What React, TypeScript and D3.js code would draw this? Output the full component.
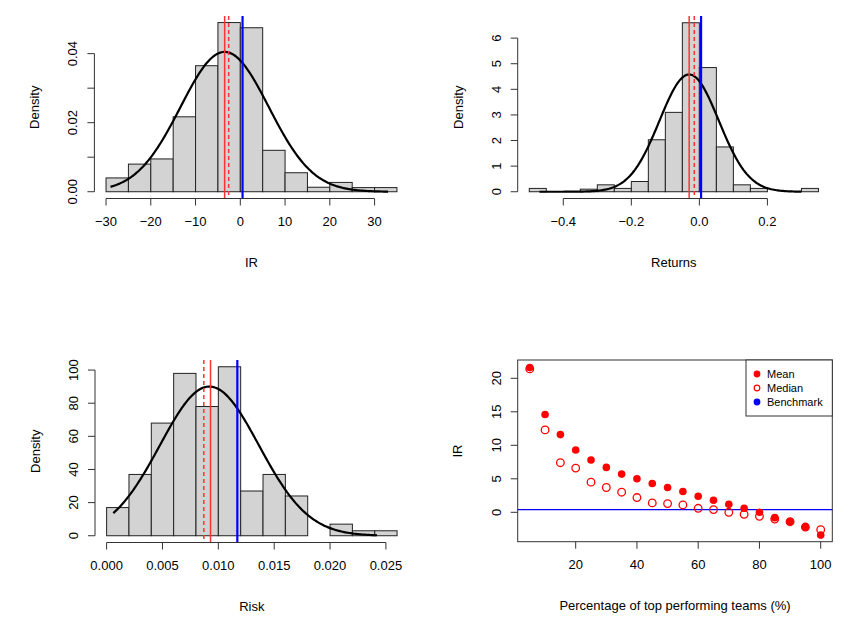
import React from "react";
import * as d3 from "d3";

const irBreaks = d3.range(-30, 36, 5);
const irDens = [0.004, 0.008, 0.0095, 0.0217, 0.0365, 0.049, 0.0475, 0.012, 0.0055, 0.0013, 0.0027, 0.0012, 0.0012];
const retBreaks = d3.range(-0.5, 0.351, 0.05);
const retDens = [0.13, 0, 0, 0.1, 0.27, 0.13, 0.4, 2.03, 3.1, 6.6, 4.85, 1.75, 0.27, 0.13, 0, 0, 0.13];
const riskBreaks = d3.range(0, 0.0261, 0.002);
const riskDens = [17, 37, 68, 98, 78, 102, 27, 37, 24, 0, 7, 3, 3];
const pct = d3.range(5, 101, 5);
const meanIR = [21.6, 14.6, 11.6, 9.3, 7.8, 6.7, 5.7, 5.0, 4.3, 3.7, 3.1, 2.4, 1.8, 1.2, 0.6, 0.0, -0.8, -1.4, -2.2, -3.4];
const medianIR = [21.4, 12.3, 7.4, 6.6, 4.5, 3.7, 3.0, 2.2, 1.4, 1.3, 1.1, 0.6, 0.4, 0.0, -0.3, -0.6, -1.0, -1.4, -2.2, -2.6];
const benchmarkIR = 0.4;

const F = "Liberation Sans, Arial, sans-serif";

type HP = {
  breaks: number[]; dens: number[]; mean: number; sd: number; c0: number; c1: number;
  red: number; dash: number; blue: number; xticks: number[]; yticks: number[]; ylabel: (v: number) => string;
  xlabel: (v: number) => string; title: string; px: [number, number]; py: [number, number]; xdom: [number, number]; ydom: [number, number];
};

function Hist(p: HP) {
  const x = d3.scaleLinear().domain(p.xdom).range(p.px);
  const y = d3.scaleLinear().domain(p.ydom).range(p.py);
  const pts = d3.range(0, 201).map(i => p.c0 + (p.c1 - p.c0) * i / 200);
  const line = d3.line<number>().x(v => x(v)).y(v => y(Math.exp(-0.5 * ((v - p.mean) / p.sd) ** 2) / (p.sd * Math.sqrt(2 * Math.PI))));
  const axX = p.py[0], axY = p.px[0];
  const yb = y(0);
  const xt0 = x(p.xticks[0]), xt1 = x(p.xticks[p.xticks.length - 1]);
  const yt0 = y(p.yticks[0]), yt1 = y(p.yticks[p.yticks.length - 1]);
  const top = p.py[1], bot = p.py[0];
  return (
    <g fontFamily={F} fontSize={13}>
      {p.dens.map((d, i) => (
        <rect key={i} x={x(p.breaks[i])} y={y(d)} width={x(p.breaks[i + 1]) - x(p.breaks[i])} height={yb - y(d)} fill="#d3d3d3" stroke="#222" strokeWidth={1} />
      ))}
      <path d={line(pts) || ""} fill="none" stroke="#000" strokeWidth={2.2} />
      <line x1={x(p.red)} x2={x(p.red)} y1={top} y2={bot} stroke="#f33" strokeWidth={1.5} />
      <line x1={x(p.dash)} x2={x(p.dash)} y1={top} y2={bot} stroke="#f33" strokeWidth={1.5} strokeDasharray="4,3" />
      <line x1={x(p.blue)} x2={x(p.blue)} y1={top} y2={bot} stroke="#00f" strokeWidth={2.2} />
      <line x1={xt0} x2={xt1} y1={axX} y2={axX} stroke="#333" />
      {p.xticks.map(t => (
        <g key={t}>
          <line x1={x(t)} x2={x(t)} y1={axX} y2={axX + 7} stroke="#333" />
          <text x={x(t)} y={axX + 27} textAnchor="middle">{p.xlabel(t)}</text>
        </g>
      ))}
      <line x1={axY} x2={axY} y1={yt0} y2={yt1} stroke="#333" />
      {p.yticks.map(t => (
        <g key={t}>
          <line x1={axY} x2={axY - 7} y1={y(t)} y2={y(t)} stroke="#333" />
          <text transform={`translate(${axY - 17},${y(t)}) rotate(-90)`} textAnchor="middle">{p.ylabel(t)}</text>
        </g>
      ))}
      <text transform={`translate(${axY - 55},${(top + bot) / 2}) rotate(-90)`} textAnchor="middle">Density</text>
      <text x={(p.px[0] + p.px[1]) / 2} y={axX + 68} textAnchor="middle">{p.title}</text>
    </g>
  );
}

export default function App() {
  const x4 = d3.scaleLinear().domain([20, 100]).range([575.7, 820.7]);
  const y4 = d3.scaleLinear().domain([0, 20]).range([512.3, 378.3]);
  const minus = (s: string) => s.replace("-", "\u2212");
  return (
    <svg width={860} height={622} style={{ position: "absolute", left: 0, top: 0, background: "#fff" }}>
      <Hist breaks={irBreaks} dens={irDens} mean={-3.5} sd={9.85} c0={-29} c1={33} red={-3.5} dash={-2.6} blue={0.5}
        xticks={[-30, -20, -10, 0, 10, 20, 30]} yticks={[0, 0.01, 0.02, 0.03, 0.04]}
        ylabel={v => (v * 100) % 2 < 0.01 || (v * 100) % 2 > 1.99 ? v.toFixed(2) : ""}
        xlabel={v => minus(String(v))} title="IR" px={[94.4, 408.6]} py={[198.5, 16]} xdom={[-32.6, 37.6]} ydom={[-0.00196, 0.0509]} />
      <Hist breaks={retBreaks} dens={retDens} mean={-0.03} sd={0.0871} c0={-0.47} c1={0.3} red={-0.03} dash={-0.015} blue={0.005}
        xticks={[-0.4, -0.2, 0, 0.2]} yticks={[0, 1, 2, 3, 4, 5, 6]} ylabel={v => String(v)}
        xlabel={v => minus(v.toFixed(1))} title="Returns" px={[517.7, 830]} py={[198.5, 16]}
        xdom={[-0.534, 0.384]} ydom={[-0.264, 6.864]} />
      <Hist breaks={riskBreaks} dens={riskDens} mean={0.0092} sd={0.00443} c0={0.0006} c1={0.0242} red={0.0093} dash={0.0087} blue={0.0117}
        xticks={[0, 0.005, 0.01, 0.015, 0.02, 0.025]} yticks={[0, 20, 40, 60, 80, 100]} ylabel={v => String(v)}
        xlabel={v => v.toFixed(3)} title="Risk" px={[95, 408.7]} py={[542.5, 360]}
        xdom={[-0.00104, 0.02704]} ydom={[-4.08, 106.08]} />
      <g fontFamily={F} fontSize={13}>
        <rect x={517.7} y={360} width={314.6} height={181.7} fill="none" stroke="#333" />
        <line x1={517.7} x2={832.3} y1={y4(benchmarkIR)} y2={y4(benchmarkIR)} stroke="#00f" strokeWidth={1.2} />
        {pct.map((p, i) => (
          <g key={p}>
            <circle cx={x4(p)} cy={y4(medianIR[i])} r={3.8} fill="none" stroke="#f00" strokeWidth={1.3} />
            <circle cx={x4(p)} cy={y4(meanIR[i])} r={3.8} fill="#f00" />
          </g>
        ))}
        {[20, 40, 60, 80, 100].map(t => (
          <g key={t}>
            <line x1={x4(t)} x2={x4(t)} y1={541.7} y2={548.7} stroke="#333" />
            <text x={x4(t)} y={569} textAnchor="middle">{t}</text>
          </g>
        ))}
        {[0, 5, 10, 15, 20].map(t => (
          <g key={t}>
            <line x1={517.7} x2={510.7} y1={y4(t)} y2={y4(t)} stroke="#333" />
            <text transform={`translate(500.7,${y4(t)}) rotate(-90)`} textAnchor="middle">{t}</text>
          </g>
        ))}
        <text transform="translate(462,451) rotate(-90)" textAnchor="middle">IR</text>
        <text x={675} y={610} textAnchor="middle">Percentage of top performing teams (%)</text>
        <rect x={746} y={360} width={86.3} height={56} fill="#fff" stroke="#333" />
        {[["Mean", "#f00", true], ["Median", "#f00", false], ["Benchmark", "#00f", true]].map(([lab, c, f], i) => (
          <g key={String(lab)}>
            <circle cx={757} cy={374 + i * 14} r={2.8} fill={f ? String(c) : "none"} stroke={String(c)} strokeWidth={1.2} />
            <text x={767} y={378 + i * 14} fontSize={11}>{String(lab)}</text>
          </g>
        ))}
      </g>
    </svg>
  );
}
